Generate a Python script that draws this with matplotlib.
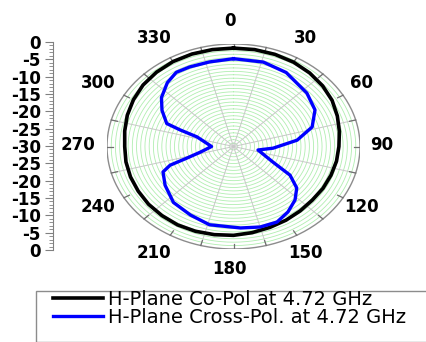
import numpy as np
import matplotlib.pyplot as plt
from matplotlib.patches import Rectangle

# co-pol (black) and cross-pol (blue) patterns, angle in degrees, level in dB
co_ang = [0, 10, 20, 30, 40, 50, 60, 70, 80, 90, 100, 110, 120, 130, 140, 150, 160, 170, 180,
          190, 200, 210, 220, 230, 240, 250, 260, 270, 280, 290, 300, 310, 320, 330, 340, 350, 360]
co_db = [-1.2, -1.2, -1.3, -1.5, -1.9, -2.4, -3.0, -3.8, -4.5, -5.0, -5.2, -5.4, -5.5, -5.6, -5.4,
         -5.1, -4.8, -4.4, -4.0, -3.8, -3.6, -3.5, -3.6, -3.7, -3.9, -4.0, -4.1, -4.2, -3.8, -3.2,
         -2.6, -2.0, -1.6, -1.3, -1.2, -1.2, -1.2]

cross_ang = [0, 16, 30, 48, 61, 73, 83, 93, 100, 116, 122, 129, 137, 146, 155, 165, 176, 194,
             207, 221, 235, 246, 250, 253, 258, 270, 288, 291, 293, 302, 310, 320, 328, 336, 347, 360]
cross_db = [-4.3, -4.3, -5.0, -6.6, -7.9, -10.5, -14.8, -20.6, -24.1, -19.6, -14.2, -10.7, -8.6,
            -6.9, -5.6, -5.6, -6.1, -6.4, -7.5, -8.3, -10.2, -11.7, -14.0, -18.5, -21.9, -24.8,
            -20.9, -16.4, -12.8, -10.0, -7.7, -5.6, -4.4, -4.5, -4.6, -4.3]

angle_ticks = [0, 30, 60, 90, 120, 150, 180, 210, 240, 270, 300, 330]
angle_labels = ["0", "30", "60", "90", "120", "150", "180", "210", "240", "270", "300", "330"]
scale_ticks = [-30, -25, -20, -15, -10, -5, 0, 5, 10, 15, 20, 25, 30]
scale_labels = ["0", "-5", "-10", "-15", "-20", "-25", "-30", "-25", "-20", "-15", "-10", "-5", "0"]
legend_labels = ["H-Plane Co-Pol at 4.72 GHz", "H-Plane Cross-Pol. at 4.72 GHz"]

r_min = -30


def to_xy(ang, db):
    t = np.radians(ang)
    r = np.clip((np.asarray(db, dtype=float) - r_min) / -r_min, 0, None)
    return r * np.sin(t), r * np.cos(t)


W, H = 426, 342
fig = plt.figure(figsize=(W / 100, H / 100), dpi=100)

# polar grid drawn on a plain axes (picture is stretched sideways)
ax = fig.add_axes([107 / W, 1 - 249 / H, 253 / W, 205 / H])
ax.set_xlim(-1, 1)
ax.set_ylim(-1, 1)
ax.axis("off")

full = np.linspace(0, 360, 361)
for lev in range(-29, 0):
    x, y = to_xy(full, np.full_like(full, lev))
    ax.plot(x, y, color="#b0eeb0", lw=0.6, zorder=1)

for a in range(15, 360, 30):
    x, y = to_xy([a, a], [r_min, 0])
    ax.plot(x, y, color="#c8c8c8", lw=0.7, zorder=1)

x, y = to_xy(full, np.zeros_like(full))
ax.plot(x, y, color="#8c8c8c", lw=1.0, zorder=2)

for a in range(0, 360, 15):
    x, y = to_xy([a, a], [-1.5, 0])
    ax.plot(x, y, color="#707070", lw=0.9, zorder=2)

for a, lab in zip(angle_ticks, angle_labels):
    t = np.radians(a)
    ax.text(1.2 * np.sin(t) - 0.03, 1.21 * np.cos(t) + 0.01, lab, ha="center", va="center",
            fontsize=12, fontweight="bold", clip_on=False)

x, y = to_xy(co_ang, co_db)
l1, = ax.plot(x, y, color="black", lw=2.6, zorder=3)
x, y = to_xy(cross_ang, cross_db)
l2, = ax.plot(x, y, color="#0000ff", lw=2.4, zorder=3)

# dB scale on the left
sax = fig.add_axes([53 / W, 1 - 250 / H, 0.0001, 208 / H])
sax.set_ylim(-30, 30)
sax.set_yticks(scale_ticks)
sax.set_yticklabels(scale_labels, fontsize=12, fontweight="bold")
sax.set_yticks(range(-30, 31), minor=True)
sax.set_xticks([])
for s in ["top", "right", "bottom"]:
    sax.spines[s].set_visible(False)
sax.spines["left"].set_color("#808080")
sax.tick_params(axis="y", which="major", length=5.8, pad=3, color="#808080")
sax.tick_params(axis="y", which="minor", length=3, color="#808080")

# legend
fig.patches.append(Rectangle((36 / W, 1 - 341.5 / H), 400 / W, 51 / H, transform=fig.transFigure,
                             facecolor="white", edgecolor="#8c8c8c", lw=1.0))
fig.legend([l1, l2], legend_labels, loc="center left", bbox_to_anchor=(53 / W, 1 - 308.5 / H),
           frameon=False, fontsize=14, handlelength=2.58, handletextpad=0.26, labelspacing=-0.08,
           borderpad=0, borderaxespad=0)

fig.savefig("out.png", dpi=100, facecolor="white")
